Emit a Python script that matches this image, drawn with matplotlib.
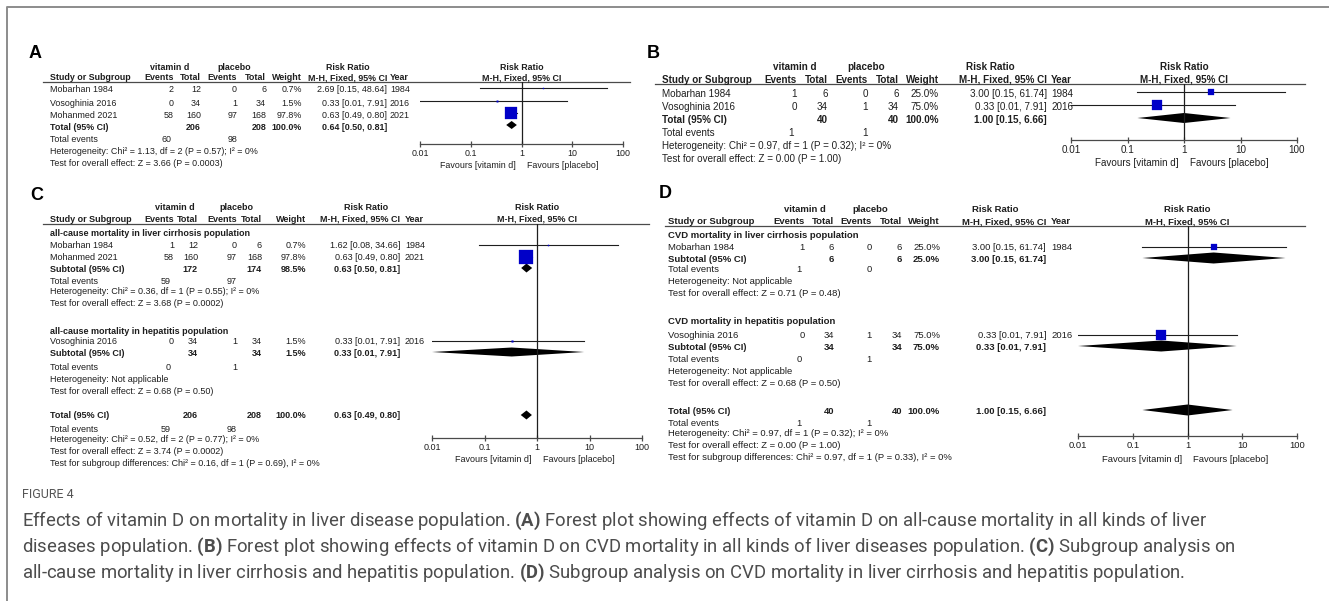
import matplotlib
matplotlib.use('Agg')
import matplotlib.pyplot as plt
from matplotlib.ticker import NullLocator

W, H = 1329, 601

# ---- panel A: all-cause mortality, all liver diseases
a_study = ['Mobarhan 1984', 'Vosoghinia 2016', 'Mohanmed 2021']
a_ev1 = [2, 0, 58]
a_n1 = [12, 34, 160]
a_ev2 = [0, 1, 97]
a_n2 = [6, 34, 168]
a_wt = [0.7, 1.5, 97.8]
a_rr = [2.69, 0.33, 0.63]
a_lo = [0.15, 0.01, 0.49]
a_hi = [48.64, 7.91, 0.80]
a_year = [1984, 2016, 2021]
a_tot = [206, 208, 100.0, 0.64, 0.50, 0.81]
a_tot_ev = [60, 98]
a_het = 'Heterogeneity: Chi² = 1.13, df = 2 (P = 0.57); I² = 0%'
a_z = 'Test for overall effect: Z = 3.66 (P = 0.0003)'

# ---- panel B: CVD mortality, all liver diseases
b_study = ['Mobarhan 1984', 'Vosoghinia 2016']
b_ev1 = [1, 0]
b_n1 = [6, 34]
b_ev2 = [0, 1]
b_n2 = [6, 34]
b_wt = [25.0, 75.0]
b_rr = [3.00, 0.33]
b_lo = [0.15, 0.01]
b_hi = [61.74, 7.91]
b_year = [1984, 2016]
b_tot = [40, 40, 100.0, 1.00, 0.15, 6.66]
b_tot_ev = [1, 1]
b_het = 'Heterogeneity: Chi² = 0.97, df = 1 (P = 0.32); I² = 0%'
b_z = 'Test for overall effect: Z = 0.00 (P = 1.00)'

# ---- panel C: all-cause mortality by subgroup
c_groups = ['all-cause mortality in liver cirrhosis population',
            'all-cause mortality in hepatitis population']
c_study = [['Mobarhan 1984', 'Mohanmed 2021'], ['Vosoghinia 2016']]
c_ev1 = [[1, 58], [0]]
c_n1 = [[12, 160], [34]]
c_ev2 = [[0, 97], [1]]
c_n2 = [[6, 168], [34]]
c_wt = [[0.7, 97.8], [1.5]]
c_rr = [[1.62, 0.63], [0.33]]
c_lo = [[0.08, 0.49], [0.01]]
c_hi = [[34.66, 0.80], [7.91]]
c_year = [[1984, 2021], [2016]]
c_sub = [[172, 174, 98.5, 0.63, 0.50, 0.81], [34, 34, 1.5, 0.33, 0.01, 7.91]]
c_sub_ev = [[59, 97], [0, 1]]
c_sub_het = ['Heterogeneity: Chi² = 0.36, df = 1 (P = 0.55); I² = 0%',
             'Heterogeneity: Not applicable']
c_sub_z = ['Test for overall effect: Z = 3.68 (P = 0.0002)',
           'Test for overall effect: Z = 0.68 (P = 0.50)']
c_tot = [206, 208, 100.0, 0.63, 0.49, 0.80]
c_tot_ev = [59, 98]
c_het = 'Heterogeneity: Chi² = 0.52, df = 2 (P = 0.77); I² = 0%'
c_z = 'Test for overall effect: Z = 3.74 (P = 0.0002)'
c_diff = 'Test for subgroup differences: Chi² = 0.16, df = 1 (P = 0.69), I² = 0%'

# ---- panel D: CVD mortality by subgroup
d_groups = ['CVD mortality in liver cirrhosis population',
            'CVD mortality in hepatitis population']
d_study = [['Mobarhan 1984'], ['Vosoghinia 2016']]
d_ev1 = [[1], [0]]
d_n1 = [[6], [34]]
d_ev2 = [[0], [1]]
d_n2 = [[6], [34]]
d_wt = [[25.0], [75.0]]
d_rr = [[3.00], [0.33]]
d_lo = [[0.15], [0.01]]
d_hi = [[61.74], [7.91]]
d_year = [[1984], [2016]]
d_sub = [[6, 6, 25.0, 3.00, 0.15, 61.74], [34, 34, 75.0, 0.33, 0.01, 7.91]]
d_sub_ev = [[1, 0], [0, 1]]
d_sub_het = ['Heterogeneity: Not applicable', 'Heterogeneity: Not applicable']
d_sub_z = ['Test for overall effect: Z = 0.71 (P = 0.48)',
           'Test for overall effect: Z = 0.68 (P = 0.50)']
d_tot = [40, 40, 100.0, 1.00, 0.15, 6.66]
d_tot_ev = [1, 1]
d_het = 'Heterogeneity: Chi² = 0.97, df = 1 (P = 0.32); I² = 0%'
d_z = 'Test for overall effect: Z = 0.00 (P = 1.00)'
d_diff = 'Test for subgroup differences: Chi² = 0.97, df = 1 (P = 0.33), I² = 0%'

ticks = [0.01, 0.1, 1, 10, 100]
tick_labels = ['0.01', '0.1', '1', '10', '100']

caption = [
    r'Effects of vitamin D on mortality in liver disease population. $\mathbf{(A)}$ Forest plot showing effects of vitamin D on all-cause mortality in all kinds of liver',
    r'diseases population. $\mathbf{(B)}$ Forest plot showing effects of vitamin D on CVD mortality in all kinds of liver diseases population. $\mathbf{(C)}$ Subgroup analysis on',
    r'all-cause mortality in liver cirrhosis and hepatitis population. $\mathbf{(D)}$ Subgroup analysis on CVD mortality in liver cirrhosis and hepatitis population.',
]

# ---- layout, in pixels of the final image (y grows downwards)
LA = dict(fs=6.4, name=50, e1=174, n1=201, e2=237, n2=266, wt=302, ci=387, yr=390,
          vit=170, pla=234, rrh=348, h1=67, h2=78, line=(43, 630, 82),
          fx=(420, 623), axis=144, fav=166, sq=13, dh=4, fdy=-2,
          rows=[90, 103, 115], tot=127, ev=139, het=151, z=163)
LB = dict(fs=7.1, name=662, e1=797, n1=828, e2=868, n2=899, wt=939, ci=1047, yr=1051,
          vit=795, pla=866, rrh=990, h1=67, h2=80, line=(655, 1305, 84),
          fx=(1071, 1297), axis=140, fav=163, sq=12.5, dh=5, fdy=-2,
          rows=[94, 107], tot=120, ev=133, het=146, z=159)
LC = dict(fs=6.5, name=50, e1=174, n1=198, e2=237, n2=262, wt=306, ci=400, yr=405,
          vit=175, pla=236, rrh=366, h1=208, h2=219, line=(43, 649, 224),
          fx=(432, 642), axis=438, fav=460, sq=14, dh=4.5, fdy=-1,
          grp=[233, 332], rows=[[246, 258], [342]], sub=[269, 353], sub_ev=[281, 367],
          sub_het=[292, 379], sub_z=[303, 391], tot=416, ev=429, het=440, z=452, diff=463)
LD = dict(fs=6.8, name=668, e1=805, n1=834, e2=872, n2=902, wt=940, ci=1046, yr=1051,
          vit=805, pla=870, rrh=995, h1=210, h2=222, line=(665, 1305, 226),
          fx=(1078, 1297), axis=436, fav=459, sq=12.5, dh=5.5, fdy=-1,
          grp=[236, 322], rows=[[248], [336]], sub=[259, 347], sub_ev=[270, 360],
          sub_het=[282, 371], sub_z=[293, 383], tot=411, ev=423, het=434, z=445, diff=457)

INK = '#1e1e1e'
RULE = '#4a4a4a'
BLUE = '#0000c8'

plt.rcParams['font.family'] = ['Liberation Sans', 'DejaVu Sans']
plt.rcParams['mathtext.fontset'] = 'custom'
plt.rcParams['mathtext.rm'] = 'Roboto'
plt.rcParams['mathtext.bf'] = 'Roboto:bold'


def txt(ax, x, y, s, L, ha='left', bold=False):
    ax.text(x, y, s, ha=ha, va='center', fontsize=L['fs'], color=INK,
            fontweight='bold' if bold else 'normal')


def ci_text(rr, lo, hi):
    return f'{rr:.2f} [{lo:.2f}, {hi:.2f}]'


def header(ax, L):
    txt(ax, L['vit'], L['h1'], 'vitamin d', L, 'center', True)
    txt(ax, L['pla'], L['h1'], 'placebo', L, 'center', True)
    txt(ax, L['rrh'], L['h1'], 'Risk Ratio', L, 'center', True)
    txt(ax, L['name'], L['h2'], 'Study or Subgroup', L, bold=True)
    for key, s in [('e1', 'Events'), ('n1', 'Total'), ('e2', 'Events'),
                   ('n2', 'Total'), ('wt', 'Weight'), ('ci', 'M-H, Fixed, 95% CI')]:
        txt(ax, L[key], L['h2'], s, L, 'right', True)
    txt(ax, L['yr'], L['h2'], 'Year', L, bold=True)
    x0, x1, y = L['line']
    ax.plot([x0, x1], [y, y], color=RULE, lw=0.9)


def forest(fig, L):
    x0, x1 = L['fx']
    top = L['line'][2]
    bot = L['axis']
    fa = fig.add_axes([x0 / W, 1 - bot / H, (x1 - x0) / W, (bot - top) / H])
    fa.set_xscale('log')
    fa.set_xlim(0.01, 100)
    fa.set_ylim(bot, top)
    fa.patch.set_visible(False)
    for s in ['top', 'left', 'right']:
        fa.spines[s].set_visible(False)
    fa.spines['bottom'].set_color(RULE)
    fa.spines['bottom'].set_linewidth(0.9)
    fa.set_xticks(ticks, labels=tick_labels)
    fa.xaxis.set_minor_locator(NullLocator())
    fa.tick_params(axis='x', direction='inout', length=5, width=0.9, colors=RULE,
                   labelcolor=INK, labelsize=L['fs'], pad=1)
    fa.set_yticks([])
    fa.axvline(1, color=INK, lw=0.9)
    fa.text(1, L['h1'], 'Risk Ratio', ha='center', va='center',
            fontsize=L['fs'], fontweight='bold', color=INK)
    fa.text(1, L['h2'], 'M-H, Fixed, 95% CI', ha='center', va='center',
            fontsize=L['fs'], fontweight='bold', color=INK)
    fa.annotate('Favours [vitamin d]', xy=(1, L['fav']), xytext=(-4, 0),
                textcoords='offset points', ha='right', va='center',
                fontsize=L['fs'], color=INK, annotation_clip=False)
    fa.annotate('Favours [placebo]', xy=(1, L['fav']), xytext=(4, 0),
                textcoords='offset points', ha='left', va='center',
                fontsize=L['fs'], color=INK, annotation_clip=False)
    return fa


def studies(ax, fa, L, ys, name, ev1, n1, ev2, n2, wt, rr, lo, hi, year):
    for i in range(len(name)):
        y = ys[i]
        txt(ax, L['name'], y, name[i], L)
        for key, v in [('e1', ev1[i]), ('n1', n1[i]), ('e2', ev2[i]), ('n2', n2[i])]:
            txt(ax, L[key], y, str(v), L, 'right')
        txt(ax, L['wt'], y, f'{wt[i]:.1f}%', L, 'right')
        txt(ax, L['ci'], y, ci_text(rr[i], lo[i], hi[i]), L, 'right')
        txt(ax, L['yr'], y, str(year[i]), L)
        fy = y + L['fdy']
        fa.plot([lo[i], hi[i]], [fy, fy], color=INK, lw=0.8)
        side = L['sq'] * (wt[i] / 100) ** 0.5
        fa.plot(rr[i], fy, marker='s', ms=side * 0.72, color=BLUE, mec=BLUE, mew=0.2)


def total(ax, fa, L, y, label, vals):
    n1, n2, wt, rr, lo, hi = vals
    txt(ax, L['name'], y, label, L, bold=True)
    txt(ax, L['n1'], y, str(n1), L, 'right', True)
    txt(ax, L['n2'], y, str(n2), L, 'right', True)
    txt(ax, L['wt'], y, f'{wt:.1f}%', L, 'right', True)
    txt(ax, L['ci'], y, ci_text(rr, lo, hi), L, 'right', True)
    fy = y + L['fdy']
    h = L['dh']
    fa.fill([lo, rr, hi, rr], [fy, fy - h, fy, fy + h], color='black', lw=0)


def events(ax, L, y, ev):
    txt(ax, L['name'], y, 'Total events', L)
    txt(ax, L['e1'] - 3, y, str(ev[0]), L, 'right')
    txt(ax, L['e2'], y, str(ev[1]), L, 'right')


fig = plt.figure(figsize=(W / 100, H / 100), dpi=100)
fig.patch.set_facecolor('white')
ax = fig.add_axes([0, 0, 1, 1])
ax.set_xlim(0, W)
ax.set_ylim(H, 0)
ax.axis('off')

# frame of the figure box
ax.plot([7, 7, W], [H, 7, 7], color='#8c8c8c', lw=1.4)

# panel letters
for letter, (x, y) in zip('ABCD', [(35, 54), (653, 54), (37, 195), (665, 194)]):
    ax.text(x, y, letter, ha='center', va='center', fontsize=13, fontweight='bold', color='black')

# A
fa = forest(fig, LA)
header(ax, LA)
studies(ax, fa, LA, LA['rows'], a_study, a_ev1, a_n1, a_ev2, a_n2, a_wt, a_rr, a_lo, a_hi, a_year)
total(ax, fa, LA, LA['tot'], 'Total (95% CI)', a_tot)
events(ax, LA, LA['ev'], a_tot_ev)
txt(ax, LA['name'], LA['het'], a_het, LA)
txt(ax, LA['name'], LA['z'], a_z, LA)

# B
fb = forest(fig, LB)
header(ax, LB)
studies(ax, fb, LB, LB['rows'], b_study, b_ev1, b_n1, b_ev2, b_n2, b_wt, b_rr, b_lo, b_hi, b_year)
total(ax, fb, LB, LB['tot'], 'Total (95% CI)', b_tot)
events(ax, LB, LB['ev'], b_tot_ev)
txt(ax, LB['name'], LB['het'], b_het, LB)
txt(ax, LB['name'], LB['z'], b_z, LB)

# C and D (subgroups)
for L, groups, st, e1, n1, e2, n2, wt, rr, lo, hi, yr, sub, sub_ev, sub_het, sub_z, tot, tot_ev, het, z, diff in [
        (LC, c_groups, c_study, c_ev1, c_n1, c_ev2, c_n2, c_wt, c_rr, c_lo, c_hi, c_year,
         c_sub, c_sub_ev, c_sub_het, c_sub_z, c_tot, c_tot_ev, c_het, c_z, c_diff),
        (LD, d_groups, d_study, d_ev1, d_n1, d_ev2, d_n2, d_wt, d_rr, d_lo, d_hi, d_year,
         d_sub, d_sub_ev, d_sub_het, d_sub_z, d_tot, d_tot_ev, d_het, d_z, d_diff)]:
    fx = forest(fig, L)
    header(ax, L)
    for g in range(len(groups)):
        txt(ax, L['name'], L['grp'][g], groups[g], L, bold=True)
        studies(ax, fx, L, L['rows'][g], st[g], e1[g], n1[g], e2[g], n2[g],
                wt[g], rr[g], lo[g], hi[g], yr[g])
        total(ax, fx, L, L['sub'][g], 'Subtotal (95% CI)', sub[g])
        events(ax, L, L['sub_ev'][g], sub_ev[g])
        txt(ax, L['name'], L['sub_het'][g], sub_het[g], L)
        txt(ax, L['name'], L['sub_z'][g], sub_z[g], L)
    total(ax, fx, L, L['tot'], 'Total (95% CI)', tot)
    events(ax, L, L['ev'], tot_ev)
    txt(ax, L['name'], L['het'], het, L)
    txt(ax, L['name'], L['z'], z, L)
    txt(ax, L['name'], L['diff'], diff, L)

# caption
ax.text(22, 495, 'FIGURE 4', ha='left', va='center', fontsize=9,
        family='Roboto', color='#555555')
for i, line in enumerate(caption):
    ax.text(22, 521 + 26 * i, line, ha='left', va='center', fontsize=13.3,
            family='Roboto', color='#4d4d4d')

fig.savefig('out.png', dpi=100, facecolor='white')
